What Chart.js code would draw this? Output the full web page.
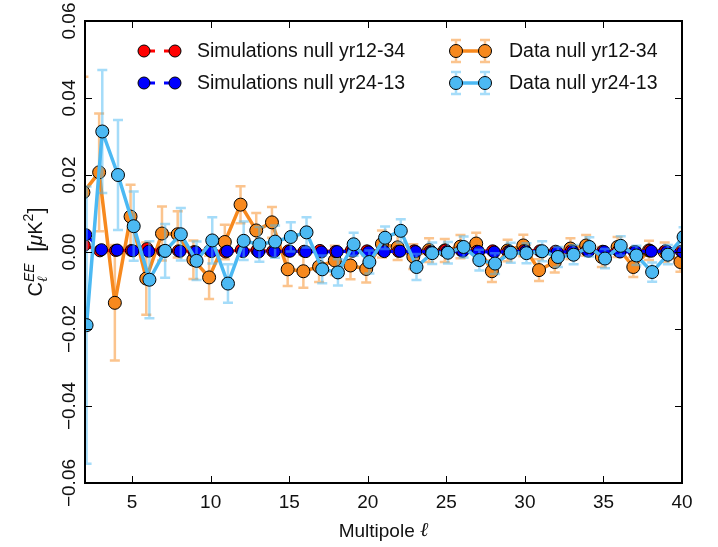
<!DOCTYPE html>
<html>
<head>
<meta charset="utf-8">
<script src="https://cdn.jsdelivr.net/npm/chart.js@4.4.1/dist/chart.umd.min.js"></script>
<style>
  html, body { margin: 0; padding: 0; background: #fff; }
  #wrap { width: 718px; height: 547px; }
</style>
</head>
<body>
<div id="wrap"><canvas id="cl"></canvas></div>
<script>
// multipoles
const ells = [2, 3, 4, 5, 6, 7, 8, 9, 10, 11, 12, 13, 14, 15, 16, 17, 18, 19, 20, 21,
  22, 23, 24, 25, 26, 27, 28, 29, 30, 31, 32, 33, 34, 35, 36, 37, 38, 39, 40];

// simulations (mean of null maps)
const simNull1234 = [0.0017, 0.0003, 0.0004, 0.0004, 0.0009, 0.0002, 0.0003, 0.0001, 0.0004, 0.0000,
  0.0006, 0.0004, 0.0002, 0.0003, 0.0002, 0.0004, 0.0001, 0.0004, 0.0003, 0.0004,
  0.0002, 0.0003, 0.0001, 0.0005, 0.0004, 0.0002, 0.0003, 0.0001, 0.0004, 0.0003,
  0.0002, 0.0003, 0.0004, 0.0002, 0.0003, 0.0001, 0.0004, 0.0003, 0.0002];
const simNull2413 = [0.0045, 0.0006, 0.0005, 0.0003, 0.0002, 0.0001, 0.0002, 0.0000, 0.0001, 0.0002,
  0.0001, 0.0000, 0.0001, 0.0002, 0.0001, 0.0000, 0.0001, 0.0002, 0.0000, 0.0001,
  0.0002, 0.0001, 0.0000, 0.0001, 0.0002, 0.0001, 0.0000, 0.0001, 0.0002, 0.0001,
  0.0000, 0.0001, 0.0002, 0.0001, 0.0000, 0.0001, 0.0002, 0.0001, 0.0000];

// data null spectra and their errors
const dataNull1234 = [0.0155, 0.0207, -0.0132, 0.0092, -0.0069, 0.0048, 0.0046, -0.0020, -0.0066, 0.0026,
  0.0123, 0.0056, 0.0077, -0.0045, -0.0050, -0.0038, -0.0022, -0.0035, -0.0044, 0.0021,
  0.0012, -0.0012, 0.0005, 0.0004, 0.0014, 0.0022, -0.0050, 0.0004, 0.0017, -0.0047,
  -0.0026, 0.0009, 0.0017, -0.0013, 0.0013, -0.0039, 0.0004, 0.0000, -0.0026];
const errNull1234 = [0.0300, 0.0153, 0.0150, 0.0083, 0.0094, 0.0070, 0.0060, 0.0050, 0.0056, 0.0045,
  0.0048, 0.0045, 0.0040, 0.0043, 0.0043, 0.0040, 0.0038, 0.0036, 0.0035, 0.0035,
  0.0033, 0.0032, 0.0031, 0.0030, 0.0030, 0.0028, 0.0028, 0.0028, 0.0028, 0.0028,
  0.0027, 0.0027, 0.0027, 0.0026, 0.0026, 0.0026, 0.0025, 0.0025, 0.0025];
const dataNull2413 = [-0.0190, 0.0313, 0.0200, 0.0067, -0.0072, 0.0003, 0.0046, -0.0023, 0.0030, -0.0082,
  0.0029, 0.0020, 0.0027, 0.0039, 0.0051, -0.0045, -0.0053, 0.0020, -0.0026, 0.0037,
  0.0055, -0.0039, -0.0003, -0.0002, 0.0013, -0.0021, -0.0030, -0.0002, -0.0003, 0.0002,
  -0.0013, -0.0007, 0.0013, -0.0017, 0.0016, -0.0009, -0.0052, -0.0007, 0.0039];
const errNull2413 = [0.0360, 0.0160, 0.0143, 0.0090, 0.0100, 0.0070, 0.0068, 0.0050, 0.0060, 0.0050,
  0.0050, 0.0045, 0.0042, 0.0038, 0.0039, 0.0036, 0.0034, 0.0030, 0.0030, 0.0029,
  0.0030, 0.0034, 0.0028, 0.0028, 0.0027, 0.0027, 0.0027, 0.0026, 0.0026, 0.0026,
  0.0026, 0.0025, 0.0025, 0.0025, 0.0025, 0.0025, 0.0025, 0.0025, 0.0025];

const xTicks = [5, 10, 15, 20, 25, 30, 35, 40];
const yTicks = [-0.06, -0.04, -0.02, 0.00, 0.02, 0.04, 0.06];
const yTickLabels = ['\u22120.06', '\u22120.04', '\u22120.02', '0.00', '0.02', '0.04', '0.06'];

const FONT = '"Liberation Sans", Arial, sans-serif';
const ORANGE = '#f7891e';
const SKY = '#4cb9f3';

const pts = (vals, shift) => vals.map((v, i) => ({ x: ells[i] + shift, y: v }));

// error bars drawn just before their own series
const errorBars = {
  id: 'errorBars',
  beforeDatasetDraw(chart, args) {
    const ds = chart.data.datasets[args.index];
    if (!ds.errors) return;
    const { ctx, chartArea: a, scales: { x, y } } = chart;
    ctx.save();
    ctx.beginPath();
    ctx.rect(a.left, a.top, a.right - a.left, a.bottom - a.top);
    ctx.clip();
    ctx.strokeStyle = ds.errorColor;
    ctx.lineWidth = 2.5;
    ds.data.forEach((p, i) => {
      const px = x.getPixelForValue(p.x);
      const lo = y.getPixelForValue(p.y - ds.errors[i]);
      const hi = y.getPixelForValue(p.y + ds.errors[i]);
      ctx.beginPath();
      ctx.moveTo(px, lo); ctx.lineTo(px, hi);
      ctx.moveTo(px - 5, lo); ctx.lineTo(px + 5, lo);
      ctx.moveTo(px - 5, hi); ctx.lineTo(px + 5, hi);
      ctx.stroke();
    });
    ctx.restore();
  }
};

function dot(ctx, x, y, r, fill) {
  ctx.beginPath();
  ctx.arc(x, y, r, 0, Math.PI * 2);
  ctx.fillStyle = fill;
  ctx.fill();
  ctx.lineWidth = 1;
  ctx.strokeStyle = '#000';
  ctx.stroke();
}

// matplotlib-like frame, inward ticks, labels and legend
const frame = {
  id: 'frame',
  afterDraw(chart) {
    const { ctx, chartArea: a, scales: { x, y } } = chart;
    ctx.save();
    ctx.strokeStyle = '#000';
    ctx.lineWidth = 1;
    ctx.beginPath();
    xTicks.forEach(t => {
      const px = Math.round(x.getPixelForValue(t)) + 0.5;
      ctx.moveTo(px, a.bottom); ctx.lineTo(px, a.bottom - 7);
      ctx.moveTo(px, a.top); ctx.lineTo(px, a.top + 7);
    });
    yTicks.forEach(t => {
      const py = Math.round(y.getPixelForValue(t)) + 0.5;
      ctx.moveTo(a.left, py); ctx.lineTo(a.left + 7, py);
      ctx.moveTo(a.right, py); ctx.lineTo(a.right - 7, py);
    });
    ctx.stroke();
    ctx.lineWidth = 2;
    ctx.strokeRect(a.left, a.top, a.right - a.left, a.bottom - a.top);

    ctx.fillStyle = '#111';
    ctx.font = '19px ' + FONT;
    ctx.textAlign = 'center';
    ctx.textBaseline = 'middle';
    xTicks.forEach(t => ctx.fillText(String(t), x.getPixelForValue(t), a.bottom + 20));
    yTicks.forEach((t, i) => {
      ctx.save();
      ctx.translate(a.left - 15, y.getPixelForValue(t));
      ctx.rotate(-Math.PI / 2);
      ctx.fillText(yTickLabels[i], 0, 0);
      ctx.restore();
    });

    // x title with italic ell
    ctx.font = '19px ' + FONT;
    const w1 = ctx.measureText('Multipole ').width;
    ctx.font = 'italic 20px "DejaVu Serif", serif';
    const w2 = ctx.measureText('\u2113').width;
    let tx = (a.left + a.right) / 2 - (w1 + w2) / 2;
    ctx.textAlign = 'left';
    ctx.font = '19px ' + FONT;
    ctx.fillText('Multipole ', tx, a.bottom + 49);
    ctx.font = 'italic 20px "DejaVu Serif", serif';
    ctx.fillText('\u2113', tx + w1, a.bottom + 48);

    // y title: C_ell^EE [muK^2]
    ctx.save();
    ctx.translate(35, (a.top + a.bottom) / 2);
    ctx.rotate(-Math.PI / 2);
    ctx.textAlign = 'left';
    ctx.textBaseline = 'alphabetic';
    const parts = [
      { t: 'C', f: '20px ' + FONT, dy: 0 },
      { t: 'EE', f: 'italic 14px ' + FONT, dy: -8, sub: '\u2113' },
      { t: ' ', f: '20px ' + FONT, dy: 0, gap: 6 },
      { t: '[', f: '22px ' + FONT, dy: 1 },
      { t: '\u03bc', f: 'italic 20px ' + FONT, dy: 0 },
      { t: 'K', f: '20px ' + FONT, dy: 0 },
      { t: '2', f: '14px ' + FONT, dy: -9 },
      { t: ']', f: '22px ' + FONT, dy: 1 }
    ];
    let total = 0;
    parts.forEach(p => { ctx.font = p.f; p.w = ctx.measureText(p.t).width + (p.gap || 0); total += p.w; });
    let cx = -total / 2;
    parts.forEach(p => {
      ctx.font = p.f;
      ctx.fillText(p.t, cx, 7 + p.dy);
      if (p.sub) {
        ctx.font = 'italic 14px "DejaVu Serif", serif';
        ctx.fillText(p.sub, cx, 7 + 5);
      }
      cx += p.w;
    });
    ctx.restore();

    // legend
    ctx.textAlign = 'left';
    ctx.textBaseline = 'middle';
    ctx.font = '19.5px ' + FONT;
    const rows = [51, 83];
    const sims = [['#ff0000', 'Simulations null yr12-34'], ['#0000ff', 'Simulations null yr24-13']];
    sims.forEach(([c, label], i) => {
      const ly = rows[i];
      ctx.save();
      ctx.strokeStyle = c;
      ctx.lineWidth = 3;
      ctx.setLineDash([11, 9]);
      ctx.beginPath(); ctx.moveTo(144, ly); ctx.lineTo(175, ly); ctx.stroke();
      ctx.restore();
      dot(ctx, 144, ly, 6, c);
      dot(ctx, 175, ly, 6, c);
      ctx.fillStyle = '#111';
      ctx.fillText(label, 197, ly + 1);
    });
    const dat = [[ORANGE, 'rgba(247,137,30,0.5)', 'Data null yr12-34'], [SKY, 'rgba(76,185,243,0.5)', 'Data null yr24-13']];
    dat.forEach(([c, ec, label], i) => {
      const ly = rows[i];
      ctx.strokeStyle = ec;
      ctx.lineWidth = 2.5;
      [456, 485].forEach(px => {
        ctx.beginPath();
        ctx.moveTo(px, ly - 11); ctx.lineTo(px, ly + 11);
        ctx.moveTo(px - 5, ly - 11); ctx.lineTo(px + 5, ly - 11);
        ctx.moveTo(px - 5, ly + 11); ctx.lineTo(px + 5, ly + 11);
        ctx.stroke();
      });
      ctx.strokeStyle = c;
      ctx.lineWidth = 3.5;
      ctx.beginPath(); ctx.moveTo(456, ly); ctx.lineTo(485, ly); ctx.stroke();
      dot(ctx, 456, ly, 6.5, c);
      dot(ctx, 485, ly, 6.5, c);
      ctx.fillStyle = '#111';
      ctx.fillText(label, 509, ly + 1);
    });
    ctx.restore();
  }
};

new Chart(document.getElementById('cl'), {
  type: 'line',
  data: {
    datasets: [
      {
        label: 'Data null yr24-13',
        data: pts(dataNull2413, 0.1),
        errors: errNull2413,
        errorColor: 'rgba(76,185,243,0.5)',
        borderColor: SKY,
        borderWidth: 3.5,
        pointBackgroundColor: SKY,
        pointBorderColor: '#000',
        pointBorderWidth: 1,
        pointRadius: 6.5,
        order: 0
      },
      {
        label: 'Simulations null yr24-13',
        data: pts(simNull2413, 0.05),
        borderColor: '#0000ff',
        borderWidth: 3,
        borderDash: [10, 6],
        pointBackgroundColor: '#0000ff',
        pointBorderColor: '#000',
        pointBorderWidth: 1,
        pointRadius: 6,
        order: 1
      },
      {
        label: 'Simulations null yr12-34',
        data: pts(simNull1234, -0.05),
        borderColor: '#ff0000',
        borderWidth: 3,
        borderDash: [10, 6],
        pointBackgroundColor: '#ff0000',
        pointBorderColor: '#000',
        pointBorderWidth: 1,
        pointRadius: 6,
        order: 2
      },
      {
        label: 'Data null yr12-34',
        data: pts(dataNull1234, -0.1),
        errors: errNull1234,
        errorColor: 'rgba(247,137,30,0.5)',
        borderColor: ORANGE,
        borderWidth: 3.5,
        pointBackgroundColor: ORANGE,
        pointBorderColor: '#000',
        pointBorderWidth: 1,
        pointRadius: 6.5,
        order: 3
      }
    ]
  },
  options: {
    responsive: true,
    maintainAspectRatio: false,
    animation: false,
    layout: { padding: { left: 85, right: 36, top: 21, bottom: 64 } },
    elements: { line: { tension: 0, borderJoinStyle: 'round' } },
    datasets: { line: { clip: 0 } },
    scales: {
      x: { type: 'linear', min: 2, max: 40, display: false },
      y: { type: 'linear', min: -0.06, max: 0.06, display: false }
    },
    plugins: { legend: { display: false }, tooltip: { enabled: false } }
  },
  plugins: [errorBars, frame]
});
</script>
</body>
</html>
